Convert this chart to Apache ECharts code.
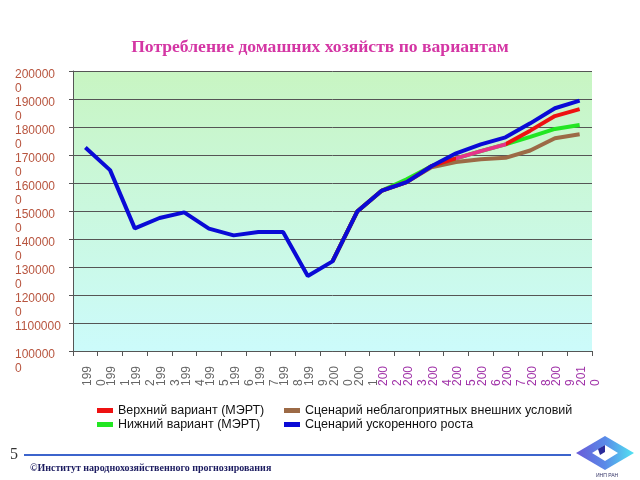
<!DOCTYPE html>
<html>
<head>
<meta charset="utf-8">
<script src="https://cdn.jsdelivr.net/npm/echarts@6/dist/echarts.min.js"></script>
<style>html,body{margin:0;padding:0;background:#fff;}#c{width:640px;height:480px;}</style>
</head>
<body>
<div id="c"></div>
<script>
const years = ['1990','1991','1992','1993','1994','1995','1996','1997','1998','1999','2000','2001','2002','2003','2004','2005','2006','2007','2008','2009','2010'];
const yTickLabels = ['100000\n0','1100000','120000\n0','130000\n0','140000\n0','150000\n0','160000\n0','170000\n0','180000\n0','190000\n0','200000\n0'];
const seriesNames = ['Верхний вариант (МЭРТ)','Нижний вариант (МЭРТ)','Сценарий неблагоприятных внешних условий','Сценарий ускоренного роста'];
const accelerated = [1727000,1646000,1438000,1475000,1495000,1437000,1413000,1425000,1425000,1268000,1320000,1498000,1573000,1603000,1660000,1706000,1738000,1763000,1813000,1867000,1894000];
const upper = [null,null,null,null,null,null,null,null,null,null,1320000,1498000,1573000,1603000,1660000,1688000,1714000,1738000,1787000,1839000,1864000];
const lower = [null,null,null,null,null,null,null,null,null,null,1320000,1498000,1573000,1613000,1660000,1688000,1714000,1738000,1765000,1793000,1807000];
const adverse = [null,null,null,null,null,null,null,null,null,null,1320000,1498000,1573000,1603000,1656000,1675000,1685000,1690000,1716000,1760000,1774000];

const chart = echarts.init(document.getElementById('c'), null, {renderer:'canvas'});
const purple = '#a032a8';
const gray = '#666666';
const RED = '#ee1111';
const legendText = {fontFamily: 'Liberation Sans', fontSize: 12.5, color: '#111'};
const option = {
  animation: false,
  title: {
    text: 'Потребление домашних хозяйств по вариантам',
    left: 'center', top: 33,
    textStyle: {fontFamily: 'Liberation Serif', fontWeight: 'bold', fontSize: 17.6, color: '#d436a4'}
  },
  grid: {
    left: 73, right: 48, top: 71, bottom: 129, show: true, borderWidth: 0,
    backgroundColor: new echarts.graphic.LinearGradient(0,0,0,1,[{offset:0,color:'#c8f5c2'},{offset:1,color:'#ccfbfb'}])
  },
  legend: [
    {data: [{name: seriesNames[0], itemStyle: {color: RED}}, seriesNames[1]], orient: 'vertical', left: 97, top: 404, padding: 0, itemGap: 1, itemWidth: 16, itemHeight: 5, itemTextGap: 1, icon: 'rect',
     textStyle: legendText},
    {data: [seriesNames[2], seriesNames[3]], orient: 'vertical', left: 284, top: 404, padding: 0, itemGap: 1, itemWidth: 16, itemHeight: 5, itemTextGap: 1, icon: 'rect',
     textStyle: legendText}
  ],
  visualMap: {
    type: 'piecewise', show: false, seriesIndex: 2, dimension: 0,
    pieces: [{lt: 14.7, color: RED}, {gte: 14.7, lte: 17, color: '#e6338a'}, {gt: 17, color: RED}]
  },
  xAxis: {
    type: 'category', boundaryGap: true,
    data: years.map(y => ({value: y, textStyle: {color: (+y >= 2002 ? purple : gray)}})),
    axisLine: {lineStyle: {color: '#555', width: 1}},
    axisTick: {show: true, length: 5, lineStyle: {color: '#555'}},
    axisLabel: {
      interval: 0, rotate: 90, margin: 15,
      fontFamily: 'Liberation Sans', fontSize: 12,
      formatter: v => '{e| }\n{a|' + v.slice(0,3) + '}\n{a|' + v.slice(3) + '}',
      rich: {
        e: {width: 20, lineHeight: 18, fontSize: 12},
        a: {width: 20, align: 'left', lineHeight: 14, fontSize: 12, fontFamily: 'Liberation Sans'}
      }
    },
    splitLine: {show: false}
  },
  yAxis: {
    type: 'value', min: 1000000, max: 2000000, interval: 100000,
    axisLine: {show: true, lineStyle: {color: '#555', width: 1}},
    axisTick: {show: true, length: 4, lineStyle: {color: '#555'}},
    splitLine: {show: true, lineStyle: {color: '#555', width: 1}},
    axisLabel: {
      formatter: v => yTickLabels[Math.round((v - 1000000) / 100000)],
      align: 'left', margin: 58, verticalAlign: 'top', lineHeight: 14, padding: [-3, 0, 0, 0],
      fontFamily: 'Liberation Sans', fontSize: 12, color: '#b8553f'
    }
  },
  series: [
    {name: seriesNames[2], type: 'line', data: adverse, symbol: 'none', lineStyle: {width: 4, color: '#9c6a46'}, itemStyle: {color: '#9c6a46'}},
    {name: seriesNames[1], type: 'line', data: lower, symbol: 'none', lineStyle: {width: 4, color: '#22e622'}, itemStyle: {color: '#22e622'}},
    {name: seriesNames[0], type: 'line', data: upper, symbol: 'none', lineStyle: {width: 4}},
    {name: seriesNames[3], type: 'line', data: accelerated, symbol: 'none', lineStyle: {width: 4, color: '#0a0ad6'}, itemStyle: {color: '#0a0ad6'}}
  ],
  graphic: [
    {type: 'text', left: 10, top: 447, style: {text: '5', fontFamily: 'Liberation Serif', fontSize: 16, fill: '#333'}},
    {type: 'line', shape: {x1: 24, y1: 455, x2: 571, y2: 455}, style: {stroke: '#3c64cc', lineWidth: 2}},
    {type: 'text', left: 30, top: 463, style: {text: '©Институт народнохозяйственного прогнозирования', fontFamily: 'Liberation Serif', fontWeight: 'bold', fontSize: 10, fill: '#1c1c60'}},
    {type: 'polygon', shape: {points: [[576,453],[605,436],[634,453],[605,470]]},
     style: {fill: new echarts.graphic.LinearGradient(0,0,1,0,[{offset:0,color:'#6a5ad8'},{offset:0.5,color:'#5a8ae8'},{offset:1,color:'#50e4f2'}])}},
    {type: 'polygon', shape: {points: [[592,453],[605,445],[618,453],[605,461]]}, style: {fill: '#ffffff'}},
    {type: 'polygon', shape: {points: [[598,449],[605,445],[605,452],[600,455]]}, style: {fill: '#2a2a9a'}},
    {type: 'text', left: 596, top: 473, style: {text: 'ИНП РАН', fontFamily: 'Liberation Sans', fontSize: 5, fill: '#333366'}}
  ]
};
chart.setOption(option);
</script>
</body>
</html>
